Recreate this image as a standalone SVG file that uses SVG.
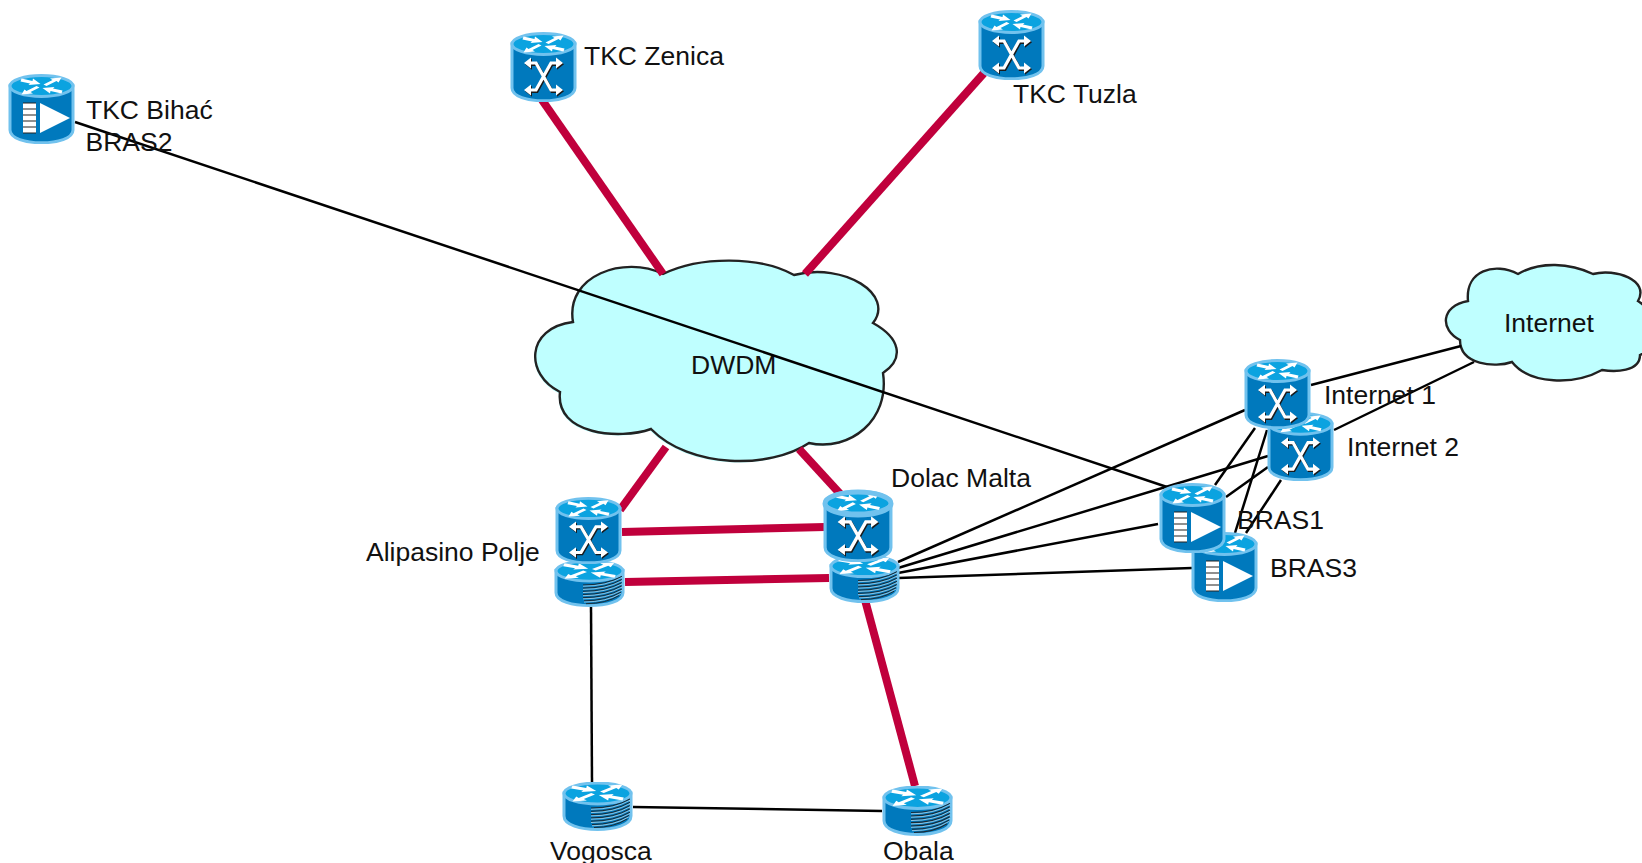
<svg xmlns="http://www.w3.org/2000/svg" xmlns:xlink="http://www.w3.org/1999/xlink" width="1642" height="863" viewBox="0 0 1642 863">
<style>
text{font-family:"Liberation Sans",Arial,sans-serif;font-size:26.5px;fill:#111}
.red{stroke:#c0003c;stroke-width:8;fill:none}
.blk{stroke:#000;stroke-width:2.5;fill:none}
.cloud{fill:#bfffff;stroke:#222;stroke-width:2.4}
.rim{stroke:#71c2ee;stroke-width:3}
.body{fill:#0079bd}
.top{fill:#0ba3e0}
.w{fill:#fff}
.xs{fill:none;stroke:#fff;stroke-width:3.2}
.xd{fill:none;stroke:#1a1a1a;stroke-width:3.2}
</style>
<defs>
<g id="arrows">
<path class="w" d="M13 3.500L24 6L24.500 3.500L32 9L20 10L21.500 8.500L12 6.500Z"/>
<path class="w" d="M35 9.500L44 5L41.500 3.500L53 2.500L50 7.500L48 6L38 11Z"/>
<path class="w" d="M31 12.500L22 17L24.500 18.500L13 19.500L16 14.500L18 16L28 11Z"/>
<path class="w" d="M53 18.500L42 16L41.500 18.500L34 13L46 12L44.500 13.500L54 15.500Z"/>
</g>
<g id="cyl">
<path class="body rim" d="M2 12V56C2 73 65 73 65 56V12Z"/>
<ellipse class="top rim" cx="33.500" cy="12" rx="31.500" ry="10.500"/>
<use href="#arrows" xlink:href="#arrows" transform="translate(.5,1)"/>
</g>
<g id="xmark">
<path d="M18 31H26L41 58H50M50 31H41L26 58H18"/>
</g>
<symbol id="xc" viewBox="0 0 67 70" preserveAspectRatio="none">
<use href="#cyl" xlink:href="#cyl"/>
<use href="#xmark" xlink:href="#xmark" class="xd" transform="translate(1,1.300)"/>
<path fill="#1a1a1a" d="M15 32.300L22 26.800V37.800ZM54 32.300L47 26.800V37.800ZM15 59.300L22 53.800V64.800ZM54 59.300L47 53.800V64.800Z"/>
<use href="#xmark" xlink:href="#xmark" class="xs"/>
<path class="w" d="M14 31L21 25.500V36.500ZM53 31L46 25.500V36.500ZM14 58L21 52.500V63.500ZM53 58L46 52.500V63.500Z"/>
</symbol>
<symbol id="amp" viewBox="0 0 67 70" preserveAspectRatio="none">
<use href="#cyl" xlink:href="#cyl"/>
<rect x="15" y="29" width="13" height="30" fill="#fff"/>
<path d="M15 29H28M15 35H28M15 41H28M15 47H28M15 53H28M15 59H28" stroke="#222" stroke-width="1.2"/>
<path class="w" d="M32 29L62 44L32 59Z"/>
</symbol>
<symbol id="rt" viewBox="0 0 71 50" preserveAspectRatio="none">
<path class="body rim" d="M2 11V34C2 52 69 52 69 34V11Z"/>
<ellipse class="top rim" cx="35.500" cy="11.500" rx="33.500" ry="10.500"/>
<use href="#arrows" xlink:href="#arrows" transform="translate(35.500,11) scale(1.25,1) translate(-33,-11)"/>
<path d="M29 26Q52 26 68 17M29 29.300Q52 29.300 68 20.300M29 32.600Q52 32.600 68 23.600M29 35.900Q52 35.900 68 26.900M29 39.200Q52 39.200 68 30.200M30 42.500Q52 42.500 67 33.500M32 45.500Q52 45.500 65 37" fill="none" stroke="#1c2a33" stroke-width="1"/>
<path d="M29 27.300Q52 27.300 68 18.300M29 30.600Q52 30.600 68 21.600M29 33.900Q52 33.900 68 24.900M29 37.200Q52 37.200 68 28.200M29 40.500Q52 40.500 68 31.500M30 43.800Q52 43.800 67 34.800" fill="none" stroke="#cfe6f2" stroke-width=".7"/>
</symbol>
</defs>

<g id="cloud-dwdm">
<path fill="#bfffff" transform="translate(-1,1.500)" d="M663 274C700 256 760 256 794 275C845 262 895 295 873 323C900 338 905 358 883 373C890 420 850 452 809 443C770 469 690 469 651 429C620 440 555 435 560 392C525 375 525 328 573 322C565 275 625 255 663 274Z"/>
<path class="cloud" d="M663 274C700 256 760 256 794 275C845 262 895 295 873 323C900 338 905 358 883 373C890 420 850 452 809 443C770 469 690 469 651 429C620 440 555 435 560 392C525 375 525 328 573 322C565 275 625 255 663 274Z"/>
<text x="691" y="374">DWDM</text>
</g>
<g id="cloud-internet">
<path class="cloud" d="M1518 274C1540 261 1570 263 1593 274C1615 268 1650 280 1638 301C1660 315 1665 345 1640 355C1640 372 1615 372 1602 370C1575 385 1530 385 1512 362C1495 368 1460 365 1460 340C1440 330 1440 306 1468 301C1465 270 1495 262 1518 274Z"/>
<text x="1504" y="332">Internet</text>
</g>

<g id="connectors">
<path class="red" d="M542 100L663 274"/>
<path class="red" d="M984 73L805 274"/>
<path class="red" d="M666 447L620 510"/>
<path class="red" d="M799 449L843 497"/>
<path class="red" d="M622 532L825 527"/>
<path class="red" d="M625 582L829 578"/>
<path class="red" d="M865 600L915 786"/>
<path class="blk" d="M75 122L1167 487"/>
<path class="blk" d="M591 607L592 782"/>
<path class="blk" d="M633 807L882 811"/>
<path class="blk" d="M1311 385L1461 346"/>
<path class="blk" d="M1334 430L1474 362"/>
<path class="blk" d="M898 562L1245 410"/>
<path class="blk" d="M898 568L1268 456"/>
<path class="blk" d="M898 573L1158 524"/>
<path class="blk" d="M898 578L1192 568"/>
<path class="blk" d="M1226 497L1268 467"/>
<path class="blk" d="M1255 428L1215 485"/>
<path class="blk" d="M1267 430L1235 533"/>
<path class="blk" d="M1281 480L1246 533"/>
</g>

<g id="tkc-bihac"><use href="#amp" xlink:href="#amp" x="8" y="74" width="67" height="70"/><text x="86" y="119">TKC Bihać</text><text x="85.500" y="151">BRAS2</text></g>
<g id="tkc-zenica"><use href="#xc" xlink:href="#xc" x="510" y="32" width="67" height="70"/><text x="584" y="65">TKC Zenica</text></g>
<g id="tkc-tuzla"><use href="#xc" xlink:href="#xc" x="978" y="10" width="67" height="70"/><text x="1013" y="103">TKC Tuzla</text></g>
<g id="alipasino-router"><use href="#rt" xlink:href="#rt" x="554" y="560" width="71" height="48"/></g>
<g id="alipasino-polje"><use href="#xc" xlink:href="#xc" x="555" y="497" width="67" height="67"/><text x="366" y="561">Alipasino Polje</text></g>
<g id="dolac-router"><use href="#rt" xlink:href="#rt" x="829" y="555" width="71" height="49"/></g>
<g id="dolac-malta"><use href="#xc" xlink:href="#xc" x="823" y="490" width="70" height="72"/><ellipse cx="858" cy="503.500" rx="33" ry="11.500" fill="none" stroke="#71c2ee" stroke-width="5"/><text x="891" y="487">Dolac Malta</text></g>
<g id="internet-2"><use href="#xc" xlink:href="#xc" x="1267" y="412" width="67" height="69"/><text x="1347" y="456">Internet 2</text></g>
<g id="internet-1"><use href="#xc" xlink:href="#xc" x="1244" y="359" width="67" height="70"/><text x="1324" y="404">Internet 1</text></g>
<g id="bras3"><use href="#amp" xlink:href="#amp" x="1191" y="532" width="67" height="70"/><text x="1270" y="577">BRAS3</text></g>
<g id="bras1"><use href="#amp" xlink:href="#amp" x="1159" y="483" width="67" height="70"/><text x="1237" y="529">BRAS1</text></g>
<g id="vogosca"><use href="#rt" xlink:href="#rt" x="562" y="782" width="71" height="50"/><text x="550" y="860">Vogosca</text></g>
<g id="obala"><use href="#rt" xlink:href="#rt" x="882" y="786" width="71" height="51"/><text x="883" y="860">Obala</text></g>
</svg>
